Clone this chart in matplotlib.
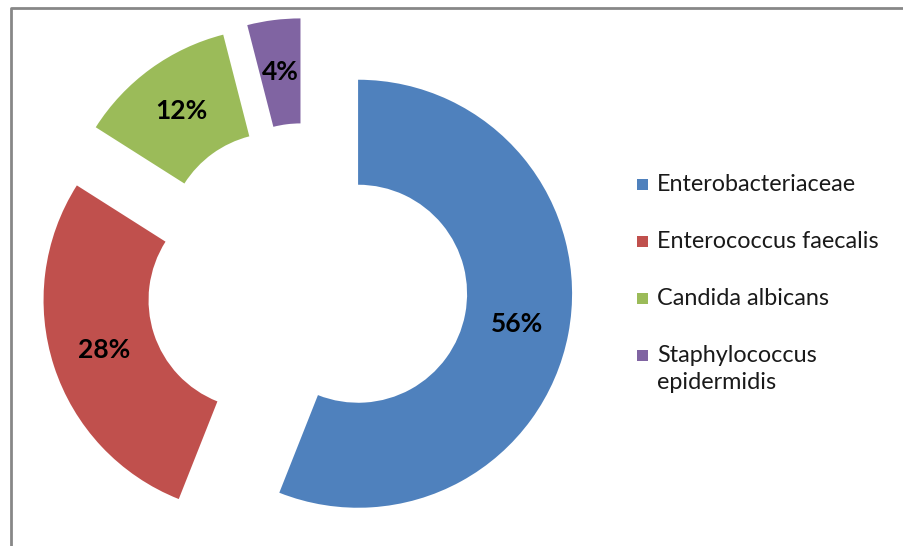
import matplotlib.pyplot as plt
from matplotlib.lines import Line2D
from matplotlib.patches import Rectangle

# Distribución de microorganismos aislados
categorias = ['Enterobacteriaceae', 'Enterococcus faecalis', 'Candida albicans',
              'Staphylococcus\nepidermidis']
porcentajes = [56, 28, 12, 4]
colores = ['#4F81BD', '#C0504D', '#9BBB59', '#8064A2']

plt.rcParams['font.family'] = ['Lato', 'DejaVu Sans']

fig = plt.figure(figsize=(9.04, 5.46), dpi=100)
ax = fig.add_axes([0, 0, 1, 1])

radio = 214
wedges, textos, autotextos = ax.pie(
    porcentajes, colors=colores, startangle=90, counterclock=False,
    radius=radio, center=(307, 262), explode=[52] * len(porcentajes),
    wedgeprops=dict(width=105, linewidth=0),
    autopct='%1.0f%%', pctdistance=0.755,
    textprops=dict(fontsize=19, fontweight='bold', color='black'))
ax.set_xlim(0, 904)
ax.set_ylim(0, 546)
ax.set_aspect('equal')
ax.axis('off')

# marco del gráfico
fig.add_artist(Line2D([11 / 904, 11 / 904, 1], [0, 538 / 546, 538 / 546],
                      transform=fig.transFigure, color='#878787', linewidth=2))

# leyenda: cuadro de color alineado con la primera línea de cada etiqueta
y_fila = 546 - 184
for etiqueta, color in zip(categorias, colores):
    ax.add_patch(Rectangle((637, y_fila - 5.5), 11, 11, facecolor=color,
                           linewidth=0))
    ax.text(657, y_fila + 10, etiqueta, fontsize=16.8, va='top', ha='left',
            linespacing=1.33, color='#1a1a1a')
    y_fila -= 57

fig.savefig('out.png', dpi=100)
